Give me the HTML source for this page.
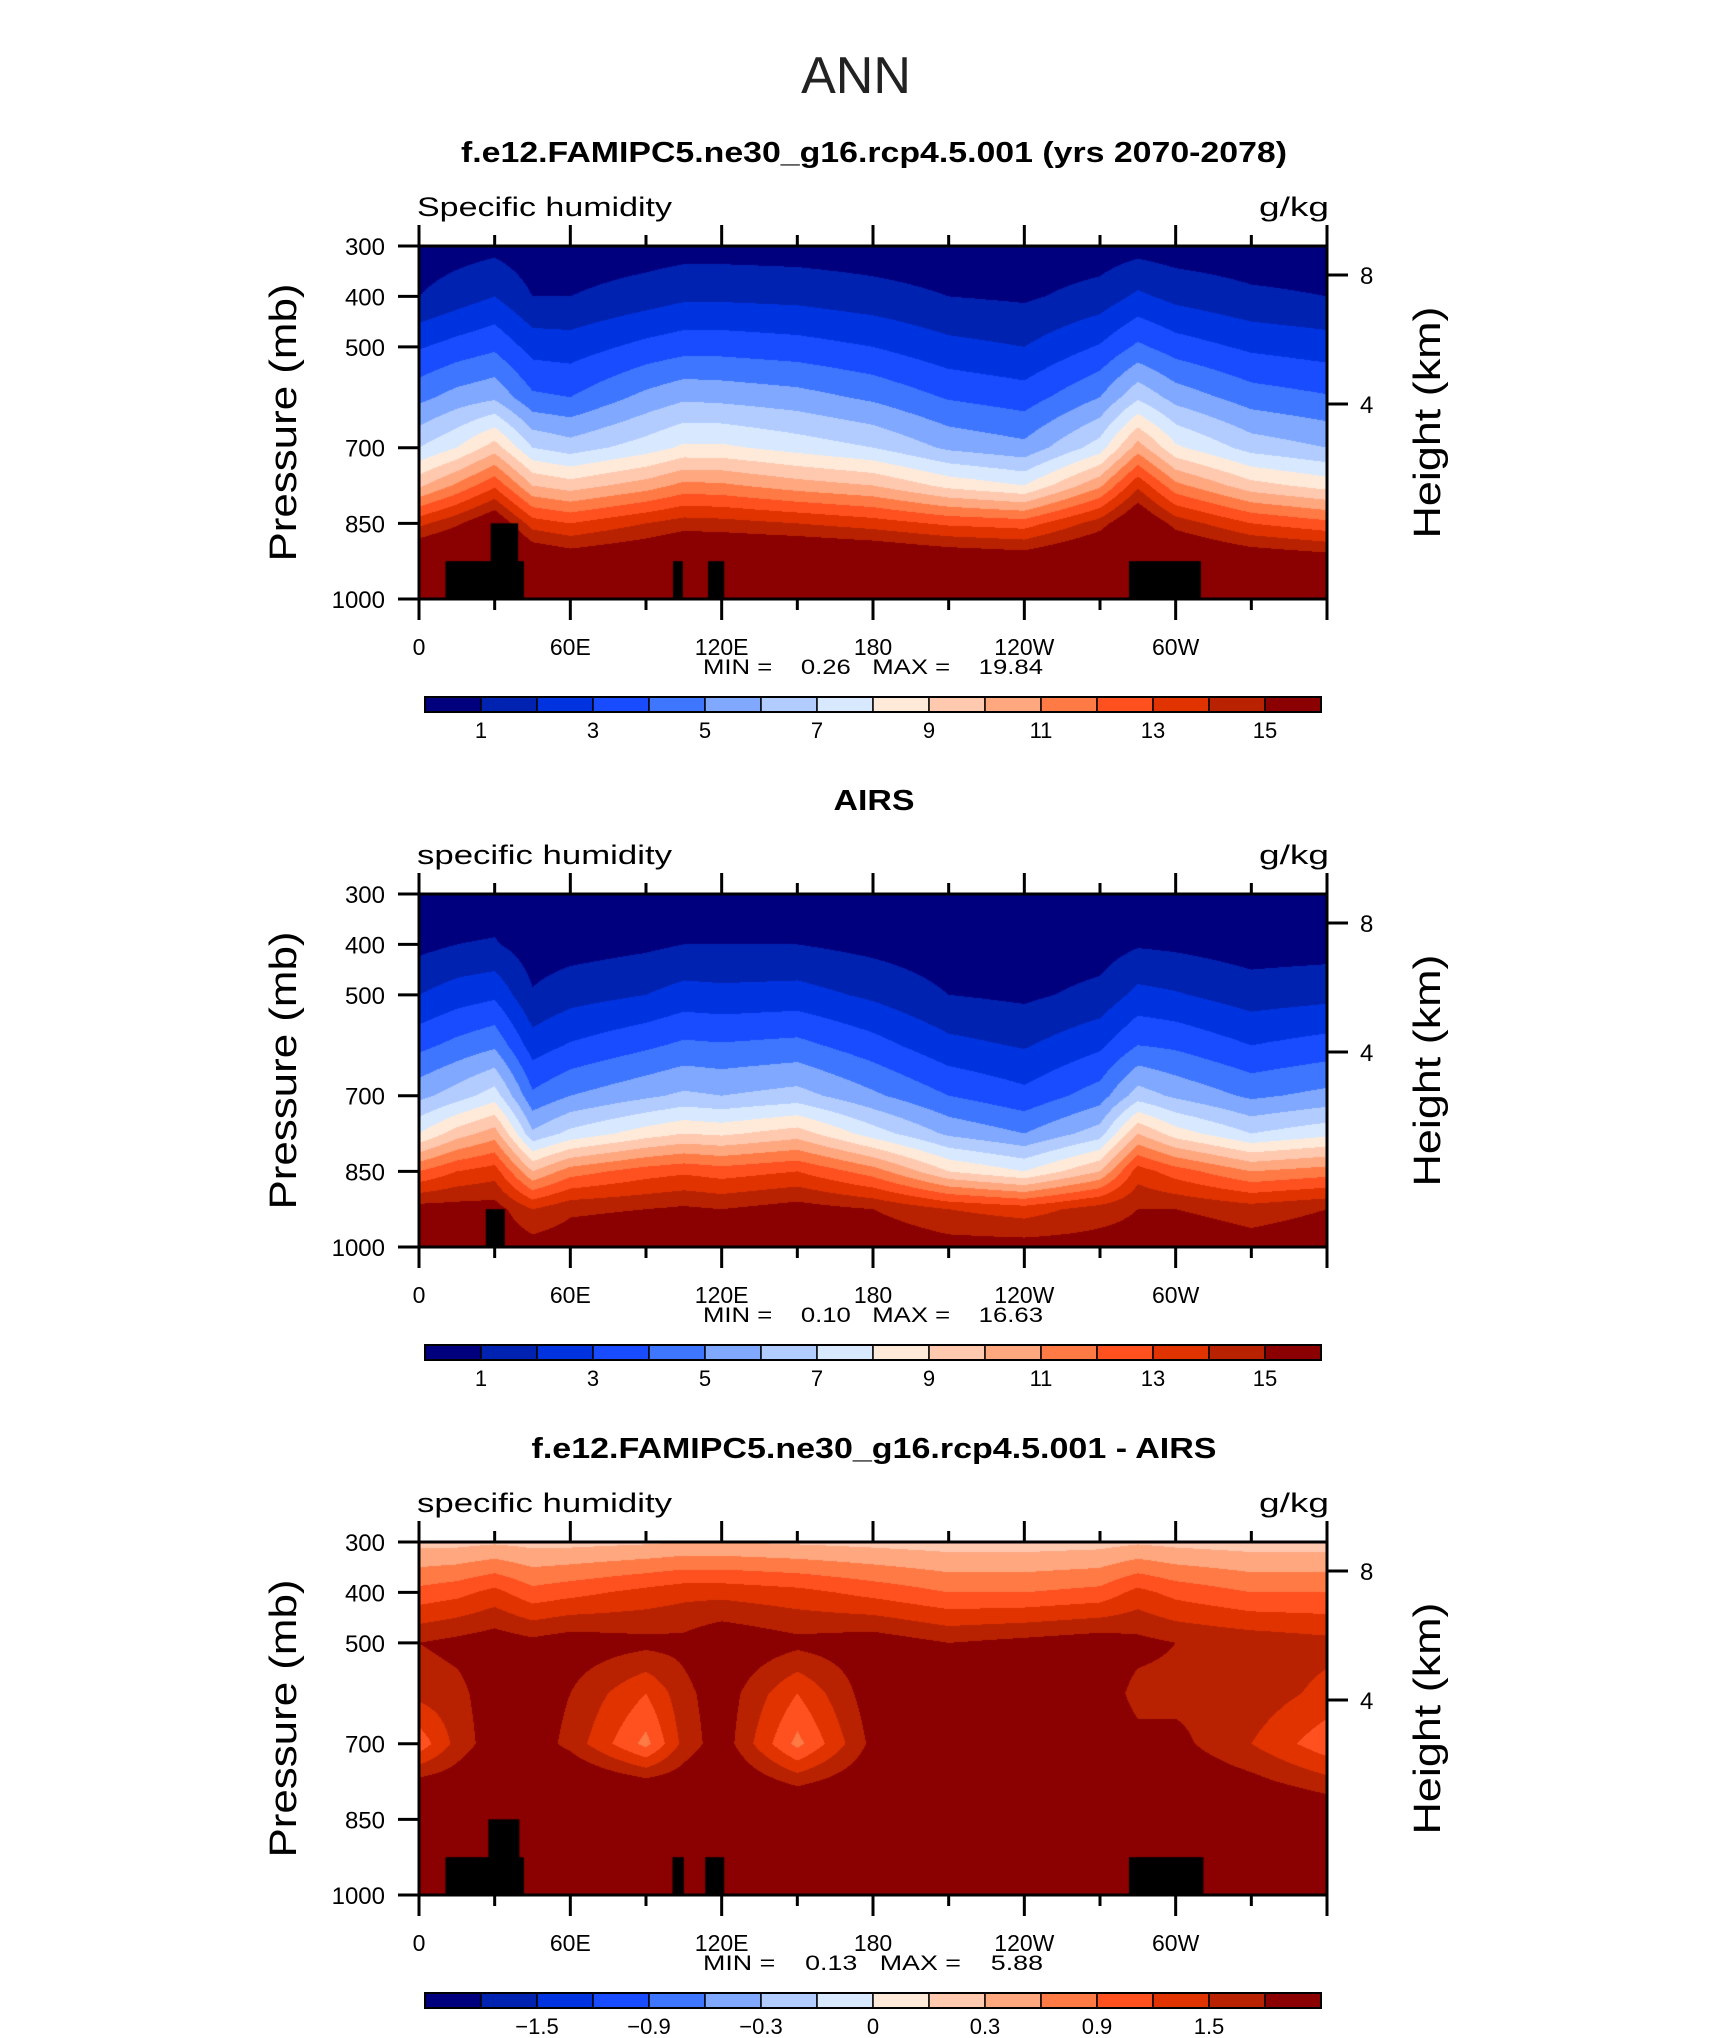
<!DOCTYPE html>
<html><head><meta charset="utf-8">
<style>
html,body{margin:0;padding:0;background:#fff;}
#wrap{position:relative;width:1710px;height:2038px;overflow:hidden;font-family:"Liberation Sans",sans-serif;}
canvas{position:absolute;}
svg{position:absolute;left:0;top:0;}
</style></head>
<body>
<div id="wrap">
<canvas id="c0" width="908" height="353" style="left:419px;top:246px"></canvas>
<canvas id="c1" width="908" height="353" style="left:419px;top:894px"></canvas>
<canvas id="c2" width="908" height="353" style="left:419px;top:1542px"></canvas>
<svg id="ov" width="1710" height="2038"></svg>
</div>
<script>
const LON = [0,15,30,45,60,90,105,120,150,180,210,240,270,285,300,330,360];
const LEV = [300,400,500,600,700,775,850,925,1000];
const modelQ = [
[0.4,1.0,2.9,4.7,7.0,9.8,13.7,17,19],
[0.55,1.5,3.4,5.4,8.0,11.2,14.8,17.5,19],
[0.7,2.0,3.8,5.8,9.5,12.8,16.2,18.5,19.5],
[0.35,1.0,2.6,4.2,7.0,10,13.5,16.5,18.5],
[0.3,1.0,2.5,4.0,6.5,9.5,13,16,18],
[0.45,1.5,3.3,5.3,7.5,10.5,14,16.5,18.5],
[0.55,1.8,3.6,5.8,8.2,11.3,14.5,17,19],
[0.55,1.8,3.6,5.7,8.2,11.2,14.4,17,19],
[0.5,1.7,3.4,5.4,7.6,10.5,14,17,19],
[0.4,1.4,3.0,4.8,7.0,10,13.5,16.8,19],
[0.3,1.0,2.3,3.9,5.8,8.7,12.8,16.3,18.7],
[0.3,0.85,2.0,3.5,5.3,8.0,12.5,16,18.5],
[0.4,1.4,3.1,5.0,7.5,10.8,14.5,17,19],
[0.6,2.2,4.2,6.8,10.5,13.8,16.5,18.5,19.5],
[0.45,1.7,3.5,5.6,8.2,11.3,14.6,17,19],
[0.35,1.2,2.8,4.5,6.6,9.4,13,16.2,18.5],
[0.35,1.0,2.5,4.1,6.0,8.6,12.3,15.8,18.5]];
const airsQ = [
[0.3,0.7,2.0,3.7,5.7,8.0,12,15.5,16],
[0.35,1.0,2.5,4.3,6.5,9.5,13,15.5,16],
[0.4,1.1,2.8,4.8,7.5,10.5,13.5,15.5,16],
[0.2,0.45,1.1,2.5,4.2,6.2,10,14,15.5],
[0.2,0.55,1.6,3.1,5.0,7.3,11.5,14.8,15.7],
[0.25,0.8,2.0,3.8,5.8,8.5,12.5,15,16],
[0.3,1.0,2.4,4.2,6.2,9.0,12.8,15.2,16],
[0.3,1.0,2.3,4.1,6.0,8.8,12.5,15,16],
[0.3,1.0,2.4,4.3,6.4,9.5,13,15.5,16.3],
[0.25,0.7,1.8,3.4,5.2,7.5,11.5,15,16],
[0.2,0.4,1.0,2.3,4.0,5.8,9,14,15.5],
[0.2,0.35,0.8,1.9,3.3,5.0,8,13.5,15.5],
[0.2,0.5,1.3,2.8,4.5,6.5,10,14.5,15.5],
[0.3,0.9,2.3,4.0,6.5,10,13.5,15,15.5],
[0.3,0.8,2.1,3.8,5.8,8.5,12.5,15,16],
[0.25,0.5,1.5,3.0,4.8,7,11,14.5,15.5],
[0.25,0.55,1.7,3.4,5.3,7.7,11.5,15,15.8]];
const diffQ = [
[0.2,1.0,1.8,1.6,1.0,1.9,2.5,2.5,2.5],
[0.2,1.1,1.9,1.7,1.6,2.0,2.5,2.5,2.5],
[0.25,1.3,2.0,2.0,2.0,2.2,2.5,2.5,2.5],
[0.2,1.0,1.9,2.0,2.0,2.2,2.5,2.5,2.5],
[0.2,1.1,2.0,1.8,1.7,2.2,2.5,2.5,2.5],
[0.25,1.3,1.9,1.2,0.8,1.9,2.5,2.5,2.5],
[0.3,1.4,1.9,1.7,1.6,2.0,2.5,2.5,2.5],
[0.3,1.4,2.1,2.0,2.0,2.2,2.5,2.5,2.5],
[0.25,1.3,1.9,1.2,0.8,1.7,2.5,2.5,2.5],
[0.2,1.1,2.0,2.0,1.9,2.1,2.5,2.5,2.5],
[0.15,0.9,1.8,2.0,2.0,2.2,2.5,2.5,2.5],
[0.15,0.9,1.9,2.0,2.0,2.2,2.5,2.5,2.5],
[0.18,1.0,2.0,2.0,2.0,2.2,2.5,2.5,2.5],
[0.25,1.3,1.9,1.7,1.9,2.0,2.5,2.5,2.5],
[0.2,1.1,1.8,1.7,1.9,2.1,2.5,2.5,2.5],
[0.15,0.9,1.7,1.7,1.5,1.9,2.4,2.5,2.5],
[0.15,0.9,1.6,1.4,1.0,1.6,2.2,2.5,2.5]];
const qLevels = [1,2,3,4,5,6,7,8,9,10,11,12,13,14,15];
const qLabels = ["1","3","5","7","9","11","13","15"];
const dLevels = [-1.8,-1.5,-1.2,-0.9,-0.6,-0.3,-0.15,0,0.15,0.3,0.6,0.9,1.2,1.5,1.8];
const dLabels = ["\u22121.5","\u22120.9","\u22120.3","0","0.3","0.9","1.5"];
const COLORS = ["#00007f","#0022b0","#0033e0","#1a4cff","#3f76ff","#80a8ff","#b3ccff","#d8e9ff","#ffead9","#ffc9b0","#ffa77f","#ff7a45","#ff5020","#e03300","#b82200","#8b0000"];
const boxesModel = {lon0:[10.5,28.4,100.7,114.6,281.5], lon1:[41.6,39.3,104.6,121,310], p0:[925,850,925,925,925]};
const boxesAirs = {lon0:[26.5], lon1:[34], p0:[925]};
const boxesDiff = {lon0:[10.5,27.5,100.5,113.5,281.5], lon1:[41.6,39.8,105,121,311], p0:[925,850,925,925,925]};
const xTickVals = [0,60,120,180,240,300,360];
const xTickLabels = ["0","60E","120E","180","120W","60W",""];
const pTickVals = [300,400,500,600,700,850,1000];
const pTickLabels = ["300","400","500","","700","850","1000"];
const kmTickLabels = ["8","4"];
const PLOT_L=419, PLOT_W=908, PLOT_H=353;
const TOPS=[246,894,1542];
function xOf(lon){return lon/360*PLOT_W;}
function yOf(p){return (p-300)/700*PLOT_H;}
function hex(c){return [parseInt(c.substr(1,2),16),parseInt(c.substr(3,2),16),parseInt(c.substr(5,2),16)];}
const RGB = COLORS.map(hex);
function seg(arr,v){for(let i=0;i<arr.length-1;i++){if(v<=arr[i+1])return [i,(v-arr[i])/(arr[i+1]-arr[i])];}return [arr.length-2,1];}
function drawField(id,data,levels,boxes){
  const cv=document.getElementById(id), ctx=cv.getContext('2d');
  const img=ctx.createImageData(PLOT_W,PLOT_H);
  for(let j=0;j<PLOT_H;j++){
    const p=300+(j+0.5)/PLOT_H*700; const [r,fr]=seg(LEV,p);
    for(let i=0;i<PLOT_W;i++){
      const lon=(i+0.5)/PLOT_W*360; const [c,fc]=seg(LON,lon);
      const a=data[c][r]*(1-fr)+data[c][r+1]*fr, b=data[c+1][r]*(1-fr)+data[c+1][r+1]*fr;
      const v=a*(1-fc)+b*fc;
      let k=0; while(k<levels.length && v>=levels[k]) k++;
      const col=RGB[k], o=(j*PLOT_W+i)*4;
      img.data[o]=col[0];img.data[o+1]=col[1];img.data[o+2]=col[2];img.data[o+3]=255;
    }
  }
  ctx.putImageData(img,0,0);
  ctx.fillStyle="#000";
  for(let b=0;b<boxes.lon0.length;b++){
    const x0=xOf(boxes.lon0[b]), x1=xOf(boxes.lon1[b]), y0=yOf(boxes.p0[b]);
    ctx.fillRect(x0,y0,x1-x0,PLOT_H-y0);
  }
}
drawField('c0',modelQ,qLevels,boxesModel);
drawField('c1',airsQ,qLevels,boxesAirs);
drawField('c2',diffQ,dLevels,boxesDiff);

const NS="http://www.w3.org/2000/svg", ov=document.getElementById('ov');
function mk(tag,attrs,parent){const e=document.createElementNS(NS,tag);for(const k in attrs)e.setAttribute(k,attrs[k]);(parent||ov).appendChild(e);return e;}
function txt(s,attrs,name,parent){const e=mk('text',attrs,parent);e.textContent=s;


return e;}
txt("ANN",{x:856,y:93,"font-size":52,"text-anchor":"middle",fill:"#222","font-family":"Liberation Sans, sans-serif"},"figure-title");
const titles=["f.e12.FAMIPC5.ne30_g16.rcp4.5.001 (yrs 2070-2078)","AIRS","f.e12.FAMIPC5.ne30_g16.rcp4.5.001 - AIRS"];
const titleW=[826,81,685];
const subs=["Specific humidity","specific humidity","specific humidity"];
const minmax=[["0.26","19.84"],["0.10","16.63"],["0.13","5.88"]];
for(let k=0;k<3;k++){
  const T=TOPS[k], g=mk('g',{});
  
  
  txt(titles[k],{x:874,y:T-84,"font-size":29,"font-weight":"bold","text-anchor":"middle","textLength":titleW[k],"lengthAdjust":"spacingAndGlyphs",fill:"#000"},"panel-title",g);
  txt(subs[k],{x:417,y:T-30,"font-size":27,"textLength":255,"lengthAdjust":"spacingAndGlyphs",fill:"#000"},"variable-name",g);
  txt("g/kg",{x:1329,y:T-30,"font-size":27,"text-anchor":"end","textLength":70,"lengthAdjust":"spacingAndGlyphs",fill:"#000"},"units-label",g);
  mk('rect',{x:PLOT_L,y:T,width:PLOT_W,height:PLOT_H,fill:"none",stroke:"#000","stroke-width":3},g);
  for(let d=0;d<=360;d+=30){
    const x=PLOT_L+xOf(d), major=d%60===0, L=major?21:11;
    mk('line',{x1:x,y1:T+PLOT_H,x2:x,y2:T+PLOT_H+L,stroke:"#000","stroke-width":3},g);
    mk('line',{x1:x,y1:T,x2:x,y2:T-L,stroke:"#000","stroke-width":3},g);
  }
  xTickVals.forEach((v,i)=>{ if(xTickLabels[i]) txt(xTickLabels[i],{x:PLOT_L+xOf(v),y:T+PLOT_H+56,"font-size":23,"text-anchor":"middle",fill:"#000"},"x-tick-label",g);});
  pTickVals.forEach((v,i)=>{ if(!pTickLabels[i]) return; const y=T+yOf(v);
    mk('line',{x1:PLOT_L-21,y1:y,x2:PLOT_L,y2:y,stroke:"#000","stroke-width":3},g);
    txt(pTickLabels[i],{x:385,y:y+9,"font-size":24,"text-anchor":"end",fill:"#000"},"y-tick-label",g);});
  [29,158].forEach((dy,i)=>{ const y=T+dy;
    mk('line',{x1:PLOT_L+PLOT_W,y1:y,x2:PLOT_L+PLOT_W+21,y2:y,stroke:"#000","stroke-width":3},g);
    txt(kmTickLabels[i],{x:1360,y:y+9,"font-size":24,fill:"#000"},"km-tick-label",g);});
  const cy=T+PLOT_H/2;
  txt("Pressure (mb)",{x:296,y:cy,"font-size":38,"text-anchor":"middle",transform:`rotate(-90 296 ${cy})`,"textLength":278,"lengthAdjust":"spacingAndGlyphs",fill:"#000"},"y-axis-title",g);
  txt("Height (km)",{x:1440,y:cy,"font-size":38,"text-anchor":"middle",transform:`rotate(-90 1440 ${cy})`,"textLength":232,"lengthAdjust":"spacingAndGlyphs",fill:"#000"},"right-axis-title",g);
  txt(`MIN =    ${minmax[k][0]}   MAX =    ${minmax[k][1]}`,{x:873,y:T+PLOT_H+75,"font-size":21,"text-anchor":"middle","textLength":340,"lengthAdjust":"spacingAndGlyphs",fill:"#000","xml:space":"preserve",style:"white-space:pre"},"min-max-label",g);
  const cbL=425, cbW=896, cbT=T+451, cbH=15, bw=cbW/16;
  for(let i=0;i<16;i++){
    const r=mk('rect',{x:cbL+i*bw,y:cbT,width:bw,height:cbH,fill:COLORS[i],stroke:"#000","stroke-width":1.5},g);
    
    
  }
  mk('rect',{x:cbL,y:cbT,width:cbW,height:cbH,fill:"none",stroke:"#000","stroke-width":2},g);
  const labs = k<2?qLabels:dLabels;
  labs.forEach((s,i)=>{ txt(s,{x:cbL+bw*(1+2*i+(k<2?0:1)),y:cbT+41,"font-size":22,"text-anchor":"middle",fill:"#000"},"colorbar-label",g);});
}
</script>
</body></html>
